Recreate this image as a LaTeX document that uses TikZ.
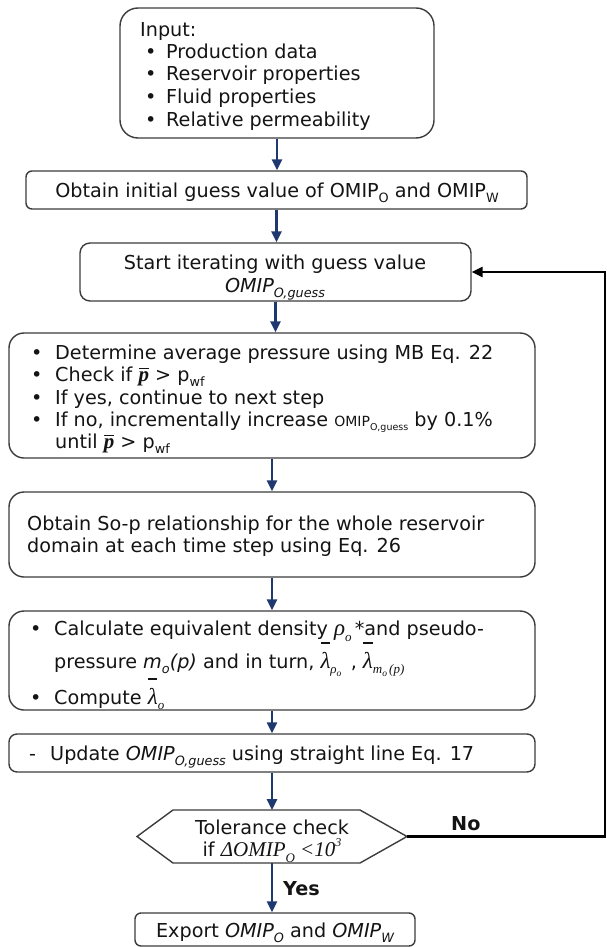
\documentclass[tikz,border=0pt]{standalone}
\usepackage{fontspec}
\setmainfont{DejaVu Sans}
\newfontfamily\tms{Liberation Serif}
\usetikzlibrary{arrows.meta}
\definecolor{navy}{RGB}{32,56,112}
\definecolor{tcol}{RGB}{20,20,20}
\definecolor{bcol}{RGB}{60,60,60}
\newcommand\fsz{\fontsize{19.2}{22}\selectfont}
\newcommand\bigsz{\fontsize{23}{23}\selectfont}
\newcommand\sbs[1]{\raisebox{-0.3em}{\fontsize{12.8}{12}\selectfont #1}}
\newcommand\ssbs[1]{\raisebox{-0.3em}{\fontsize{9.5}{10}\selectfont #1}}
\newcommand\supr[1]{\raisebox{0.45em}{\fontsize{12}{12}\selectfont #1}}
% overline helper: #1 raise, #2 glyph(s), #3 bar width
\newcommand\ovl[3]{\ooalign{#2\cr\hidewidth\rule[#1]{#3}{0.07em}\hidewidth\cr}}
\newcommand\pbar{{\fontsize{21}{21}\selectfont\tms\bfseries\itshape\ovl{0.56em}{p}{0.45em}}}
\newcommand\lbar{{\bigsz\tms\itshape\ovl{1.05em}{λ}{0.4em}}}
\newcommand\tsub[1]{\raisebox{-0.3em}{\fontsize{13}{13}\selectfont #1}}
\newcommand\ttsub[1]{\raisebox{-0.2em}{\fontsize{9.5}{9.5}\selectfont #1}}
\tikzset{
  box/.style={draw=bcol, line width=1.4pt, inner sep=0pt, fill=white},
  arr/.style={draw=navy, line width=2.5pt, -{Triangle[length=11pt,width=10pt]}},
  fb/.style={draw=black, line width=2.6pt, -{Triangle[length=11pt,width=10pt]}},
  tl/.style={anchor=base west, inner sep=0pt, font=\fsz, text=tcol},
  tc/.style={anchor=base, inner sep=0pt, font=\fsz, text=tcol},
}
\begin{document}
\begin{tikzpicture}[x=1pt,y=-1pt]
\useasboundingbox (0,0) rectangle (607,947);
% boxes
\node[box, rounded corners=18pt, minimum width=314pt, minimum height=130pt] (b1) at (277,73) {};
\node[box, rounded corners=6pt, minimum width=501pt, minimum height=38pt] (b2) at (276.5,190) {};
\node[box, rounded corners=10pt, minimum width=391pt, minimum height=58pt] (b3) at (275.5,272) {};
\node[box, rounded corners=15pt, minimum width=526pt, minimum height=125pt] (b4) at (272,395.5) {};
\node[box, rounded corners=15pt, minimum width=526pt, minimum height=85pt] (b5) at (272,534.5) {};
\node[box, rounded corners=15pt, minimum width=526pt, minimum height=99pt] (b6) at (272,660.5) {};
\node[box, rounded corners=8pt, minimum width=526pt, minimum height=38pt] (b7) at (272,753) {};
\node[box, rounded corners=6pt, minimum width=280pt, minimum height=33pt] (b8) at (275,929.5) {};
% hexagon
\draw[draw=bcol, line width=1.4pt] (137,836.5) -- (173,810) -- (360,810) -- (407,836.5) -- (360,863) -- (173,863) -- cycle;
\coordinate (hexN) at (272,810);
\coordinate (hexS) at (272,863);
\coordinate (hexE) at (407,836.5);
\coordinate (fbx) at (605,0);
% texts box1
\node[tl] (t1a) at (140,37) {Input:};
\node[tl] (t1b) at (145,59) {•};
\node[tl] (t1c) at (166,59) {Production data};
\node[tl] (t1d) at (145,81) {•};
\node[tl] (t1e) at (166,81) {Reservoir properties};
\node[tl] (t1f) at (145,104) {•};
\node[tl] (t1g) at (166,104) {Fluid properties};
\node[tl] (t1h) at (145,126) {•};
\node[tl] (t1i) at (166,126) {Relative permeability};
% box2
\node[tc] (t2) at (277,197) {Obtain initial guess value of OMIP\sbs{O} and OMIP\sbs{W}};
% box3
\node[tc] (t3a) at (275,269) {Start iterating with guess value};
\node[tc] (t3b) at (275,292) {\textit{OMIP\sbs{O,guess}}};
% box4
\node[tl] (t4a) at (31,359) {•};
\node[tl] (t4b) at (55,359) {Determine average pressure using MB Eq. 22};
\node[tl] (t4c) at (31,381) {•};
\node[tl] (t4d) at (55,381) {Check if \pbar\ > p\sbs{wf}};
\node[tl] (t4e) at (31,404) {•};
\node[tl] (t4f) at (55,404) {If yes, continue to next step};
\node[tl] (t4g) at (31,426) {•};
\node[tl] (t4h) at (55,426) {If no, incrementally increase {\fontsize{14}{14}\selectfont OMIP\ssbs{O,guess}} by 0.1\%};
\node[tl] (t4i) at (55,448) {until \pbar\ > p\sbs{wf}};
% box5
\node[tl] (t5a) at (27,530) {Obtain So-p relationship for the whole reservoir};
\node[tl] (t5b) at (27,552) {domain at each time step using Eq. 26};
% box6
\node[tl] (t6a) at (30,635) {•};
\node[tl] (t6b) at (54,635) {Calculate equivalent density {\bigsz\tms\itshape ρ\tsub{o}}\,*and pseudo-};
\node[tl] (t6c) at (54,668) {pressure \textit{m\sbs{o}(p)} and in turn, \lbar{\tms\itshape\tsub{ρ\ttsub{o}}}\, , \lbar{\tms\itshape\tsub{m\ttsub{o}\,(p)}}};
\node[tl] (t6d) at (30,704) {•};
\node[tl] (t6e) at (54,704) {Compute \lbar{\tms\itshape\tsub{o}}};
% box7
\node[tl] (t7a) at (29,760) {-};
\node[tl] (t7b) at (50,760) {Update \textit{OMIP\sbs{O,guess}} using straight line Eq. 17};
% hexagon text
\node[tc] (th1) at (272,834) {Tolerance check};
\node[tc] (th2) at (272,856) {if {\fontsize{21}{21}\selectfont\tms\itshape ΔOMIP\tsub{O} <10\supr{3}}};
% export
\node[tc] (t8) at (275,937) {Export \textit{OMIP\sbs{O}} and \textit{OMIP\sbs{W}}};
% labels
\node[tl, font=\fsz\bfseries] (yes) at (283,895) {Yes};
\node[tl, font=\fsz\bfseries] (no) at (451,830) {No};
% arrows
\draw[arr] (b1.south) -- (b1.south |- b2.north);
\draw[arr] (b2.south) -- (b2.south |- b3.north);
\draw[arr] (b3.south) -- (b3.south |- b4.north);
\draw[arr] (b4.south) -- (b4.south |- b5.north);
\draw[arr] (b5.south) -- (b5.south |- b6.north);
\draw[arr] (b6.south) -- (b6.south |- b7.north);
\draw[arr] (b7.south) -- (hexN);
\draw[arr] (hexS) -- (hexS |- b8.north);
\draw[fb] (hexE) -- (hexE -| fbx) -- (fbx |- b3.east) -- (b3.east);
\end{tikzpicture}
\end{document}
